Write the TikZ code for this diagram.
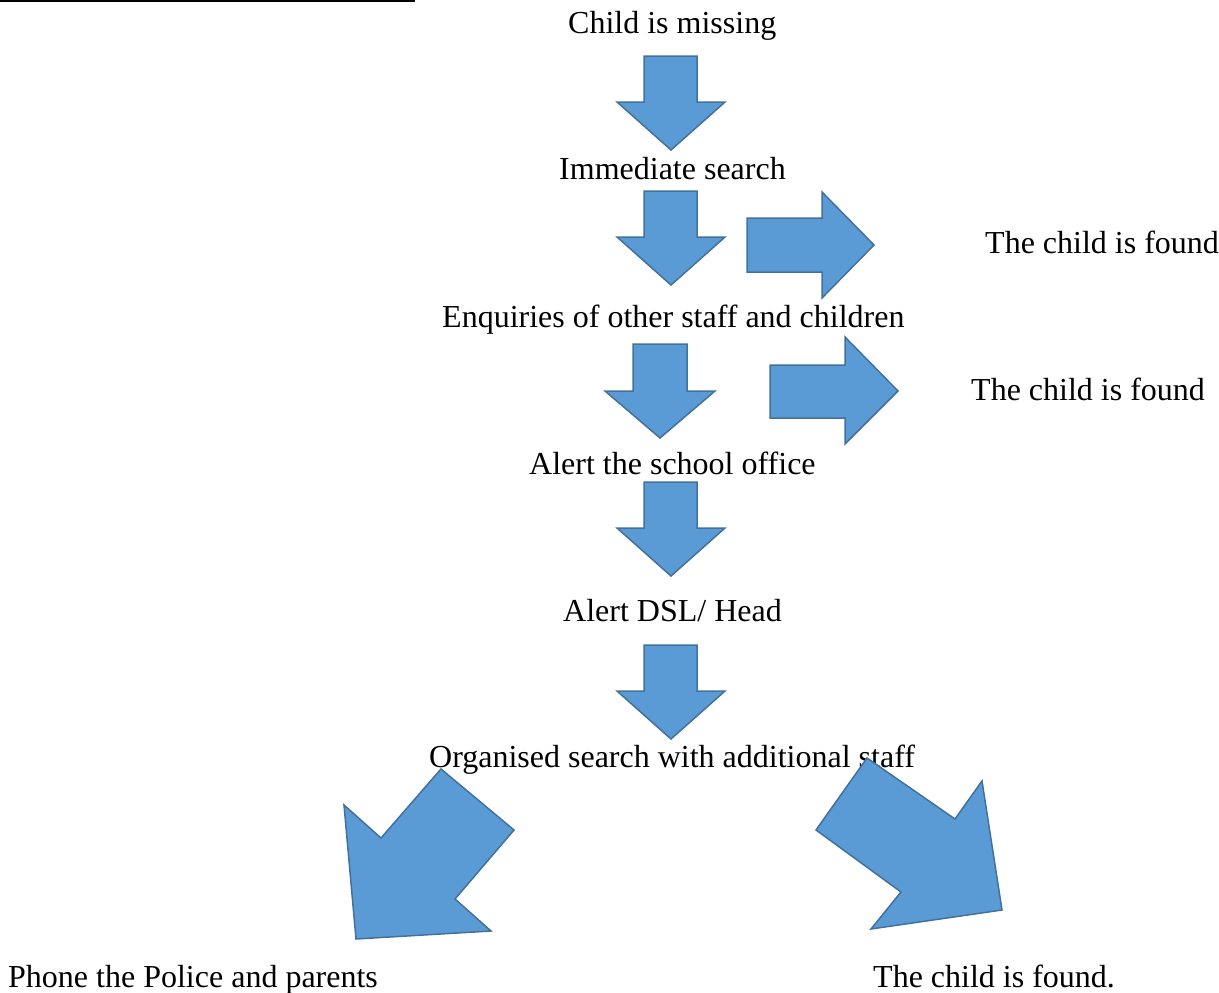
\documentclass[tikz,border=0pt]{standalone}
\usepackage{fontspec}
\setmainfont{Liberation Serif}
\definecolor{afill}{HTML}{5B9BD5}
\definecolor{aline}{HTML}{41719C}
\begin{document}
\begin{tikzpicture}[x=1pt,y=-1pt,
  lbl/.style={anchor=base west,inner sep=0pt,font=\fontsize{32}{36}\selectfont},
  blockarrow/.style={fill=afill,draw=aline,line width=1.5pt,line join=miter}]
\useasboundingbox (0,0) rectangle (1219,993);
\fill (0,0) rectangle (415,2.4);
% texts
\node[lbl] (t1) at (568,33) {Child is missing};
\node[lbl] (t2) at (559,179) {Immediate search};
\node[lbl] (f1) at (985,253) {The child is found};
\node[lbl] (t3) at (442,327) {Enquiries of other staff and children};
\node[lbl] (f2) at (971,400) {The child is found};
\node[lbl] (t4) at (529,474) {Alert the school office};
\node[lbl] (t5) at (563,621) {Alert DSL/ Head};
\node[lbl] (t6) at (429,767) {Organised search with additional staff};
\node[lbl] (t7) at (8,987) {Phone the Police and parents};
\node[lbl] (f3) at (873,987) {The child is found.};
% down arrows
\foreach \y/\cx in {56/671,191/671,482/671,645/671}{
  \draw[blockarrow] (\cx-27,\y) -- (\cx+26,\y) -- (\cx+26,\y+46) -- (\cx+54,\y+46)
    -- (\cx,\y+94) -- (\cx-54,\y+46) -- (\cx-27,\y+46) -- cycle;
}
\draw[blockarrow] (633,344) -- (687,344) -- (687,391) -- (715,391) -- (660,438)
  -- (605,391) -- (633,391) -- cycle;
% right arrows
\draw[blockarrow] (747,218) -- (822,218) -- (822,192) -- (874,245) -- (822,298)
  -- (822,272) -- (747,272) -- cycle;
\draw[blockarrow] (770,365) -- (845,365) -- (845,337) -- (898,391) -- (845,444)
  -- (845,418) -- (770,418) -- cycle;
% diagonal arrows
\draw[blockarrow] (441,769) -- (514,830) -- (455,899) -- (491,931) -- (356,939)
  -- (344,805) -- (381,838) -- cycle;
\draw[blockarrow] (867,758) -- (955,819) -- (982,781) -- (1002,910) -- (871,929)
  -- (901,892) -- (816,830) -- cycle;
\end{tikzpicture}
\end{document}
